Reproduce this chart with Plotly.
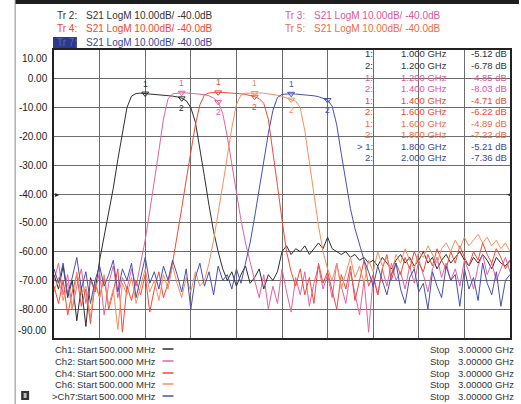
import plotly.graph_objects as go

# ---------------- data ----------------
freq_ghz = [round(0.5 + 0.025 * i, 3) for i in range(101)]  # 500 MHz .. 3 GHz sweep

ch1_db = [-68, -73, -65, -76, -70, -84, -72, -86, -69, -74,
          -63, -55, -46, -38, -28, -19, -10, -6.0, -5.1, -5.0, -5.12, -5.2, -5.3, -5.4, -5.6, -5.8, -6.0,
          -6.3, -6.78, -7.6, -10, -15, -24, -34, -44, -53, -60,
          -66, -70, -67, -72, -68, -65, -71, -69, -66, -73, -68, -70, -67,
          -60, -58, -61, -59, -60, -58, -61, -59, -57, -59, -55, -59, -60, -61, -60, -62, -61, -63, -62, -64, -63,
          -65, -62, -64, -66, -63, -61, -64, -62, -65, -63, -60, -64, -62, -66, -63, -61, -64, -62, -60, -63,
          -65, -62, -64, -61, -63, -66, -62, -64, -65, -63]

ch2_db = [-70, -64, -75, -68, -80, -72, -66, -78, -70, -74, -67, -82, -71, -65, -76, -69, -73, -66, -72,
          -64, -56, -46, -36, -25, -14, -7, -5.2, -4.9, -4.85, -4.9, -5.0, -5.1, -5.3, -5.5, -5.9, -6.7,
          -8.03, -12, -20, -30, -40, -49, -57, -64,
          -70, -76, -68, -80, -72, -78, -66, -74, -81, -69, -75, -67, -79, -71, -65, -73, -68, -76, -64, -72,
          -78, -67, -74, -82, -70, -88, -69, -75, -66, -72, -64, -70, -67, -73, -65, -71, -63, -68, -74, -66,
          -62, -69, -64, -70, -66, -72, -63, -67, -73, -65, -61, -68, -64, -70, -66, -62, -67]

ch4_db = [-72, -78, -70, -82, -74, -68, -79, -73, -85, -71, -76, -69, -80, -74, -66, -88, -72, -77, -70, -75,
          -68, -81, -73, -67, -76, -71,
          -64, -55, -45, -35, -25, -16, -9, -5.6, -4.9, -4.7, -4.71, -4.75, -4.8, -4.9, -5.0, -5.2, -5.4,
          -5.8, -6.22, -6.9, -8.5, -14, -25, -37, -49, -60, -67,
          -72, -66, -75, -69, -78, -64, -71, -67, -74, -80, -68, -73, -65, -77, -70, -63, -72, -68, -75, -66,
          -61, -70, -64, -68, -62, -66, -60, -64, -67, -61, -65, -59, -63, -66, -60, -64, -58, -62, -65, -60,
          -63, -57, -61, -64, -59, -62, -66, -63]

ch6_db = [-74, -69, -77, -71, -80, -67, -75, -72, -83, -70, -76, -68, -79, -73, -87, -71, -75, -69, -78, -72,
          -66, -74, -70, -77, -68, -73, -65, -71, -76, -69, -74, -67, -72, -70,
          -64, -56, -47, -37, -27, -17, -9, -5.6, -5.0, -4.9, -4.89, -4.95, -5.0, -5.2, -5.4, -5.7, -6.1,
          -6.6, -7.22, -7.8, -10, -18, -29, -40, -51, -60, -66,
          -70, -64, -73, -67, -62, -69, -65, -71, -63, -67, -60, -65, -62, -68, -61, -64, -59, -63, -66, -60,
          -62, -58, -61, -64, -59, -57, -60, -56, -59, -55, -58, -56, -54, -57, -55, -58, -56, -59, -57, -60]

ch7_db = [-66, -71, -64, -75, -69, -62, -73, -67, -78, -70, -65, -72, -68, -63, -74, -66, -70, -64, -76, -69,
          -62, -71, -67, -73, -65, -70, -63, -68, -74, -66, -80, -69, -64, -72, -67, -75, -65, -70, -68, -73,
          -66, -71,
          -64, -57, -48, -38, -28, -19, -11, -6.5, -5.4, -5.2, -5.21, -5.3, -5.4, -5.5, -5.7, -5.9, -6.2,
          -6.7, -7.36, -9.5, -16, -26, -36, -45, -52, -58, -63,
          -67, -72, -65, -70, -75, -68, -64, -73, -78, -69, -66, -74, -71, -80, -67, -72, -76, -65, -70, -68,
          -79, -66, -73, -69, -77, -64, -71, -75, -67, -79, -70, -68]

channels = ["Ch1", "Ch2", "Ch4", "Ch6", "Ch7"]
trace_names = ["Tr 2", "Tr 3", "Tr 4", "Tr 5", "Tr 7"]
trace_db = [ch1_db, ch2_db, ch4_db, ch6_db, ch7_db]
colors = ["#2e2e2e", "#e2639f", "#f04a38", "#f4905e", "#4650b4"]
text_colors = ["#333333", "#e0559a", "#f0472e", "#f06a40", "#3a46a0"]

marker_ch = [0, 0, 1, 1, 2, 2, 3, 3, 4, 4]
marker_num = ["1", "2", "1", "2", "1", "2", "1", "2", "1", "2"]
marker_freq_ghz = [1.0, 1.2, 1.2, 1.4, 1.4, 1.6, 1.6, 1.8, 1.8, 2.0]
marker_db = [-5.12, -6.78, -4.85, -8.03, -4.71, -6.22, -4.89, -7.22, -5.21, -7.36]

y_ticks = [0, -10, -20, -30, -40, -50, -60, -70, -80]
x_grid = [0.75, 1.0, 1.25, 1.5, 1.75, 2.0, 2.25, 2.5, 2.75]
start_label = "500.000 MHz"
stop_label = "3.00000 GHz"
scale_label = "S21 LogM 10.00dB/ -40.0dB"

# ---------------- figure ----------------
W, H = 521, 404
L, R, T, B = 54, 512, 50, 338
FONT = "Liberation Sans, Arial, sans-serif"


def PX(x):
    return (x - L) / (R - L)


def PY(y):
    return (B - y) / (B - T)


fig = go.Figure()
for db, col in zip(trace_db, colors):
    fig.add_trace(go.Scatter(x=freq_ghz, y=db, mode="lines",
                             line=dict(color=col, width=1), hoverinfo="skip", showlegend=False))

# marker triangles (data-driven)
for ci in range(5):
    mf = [f for c, f in zip(marker_ch, marker_freq_ghz) if c == ci]
    mv = [v for c, v in zip(marker_ch, marker_db) if c == ci]
    fig.add_trace(go.Scatter(x=mf, y=mv, mode="markers", hoverinfo="skip", showlegend=False,
                             marker=dict(symbol="triangle-down-open", size=6,
                                         color=colors[ci], line=dict(color=colors[ci], width=1))))

ann = []
# marker numbers
for ci, num, f, v in zip(marker_ch, marker_num, marker_freq_ghz, marker_db):
    col = colors[ci]
    if num == "1":
        ann.append(dict(x=f, y=v, xref="x", yref="y", text=num, showarrow=False,
                        yanchor="bottom", yshift=3, font=dict(size=8.5, color=col, family=FONT)))
    else:
        ann.append(dict(x=f, y=v, xref="x", yref="y", text=num, showarrow=False,
                        yanchor="top", yshift=-3, font=dict(size=8.5, color=col, family=FONT)))

# marker table
row_y = [54, 65.5, 77, 88.5, 100, 111.5, 123, 134.5, 146, 157.5]
for k, (ci, num, f, v) in enumerate(zip(marker_ch, marker_num, marker_freq_ghz, marker_db)):
    col = text_colors[ci]
    idtxt = ("> " if (ci == 4 and num == "1") else "") + num + ":"
    for txt, xr in ((idtxt, 376), (f"{f:.3f} GHz", 451), (f"{v:.2f} dB", 511)):
        ann.append(dict(x=PX(xr), y=PY(row_y[k]), xref="paper", yref="paper", text=txt,
                        showarrow=False, xanchor="right", yanchor="middle",
                        font=dict(size=9.5, color=col, family=FONT)))

# y labels at the ends
ann.append(dict(x=PX(49), y=10, xref="paper", yref="y", text="10.00", showarrow=False,
                xanchor="right", yanchor="top", yshift=-1, font=dict(size=10, color="#222", family=FONT)))
ann.append(dict(x=PX(49), y=-90, xref="paper", yref="y", text="-90.00", showarrow=False,
                xanchor="right", yanchor="bottom", yshift=0, font=dict(size=10, color="#222", family=FONT)))
# reference position arrows
ann.append(dict(x=PX(52.5), y=-40, xref="paper", yref="y", text="▸", showarrow=False,
                font=dict(size=8, color="#222", family=FONT)))
ann.append(dict(x=PX(516), y=-40, xref="paper", yref="y", text="◂", showarrow=False,
                font=dict(size=9, color="#333", family=FONT)))

# header
header_pos = [(0, 55, 15), (2, 55, 28), (4, 55, 42), (1, 284, 15), (3, 284, 28)]
for ti, x0, y0 in header_pos:
    col = text_colors[ti]
    name_col = "#5866b8" if ti == 4 else col
    ann.append(dict(x=PX(x0), y=PY(y0), xref="paper", yref="paper", text=trace_names[ti] + ":",
                    showarrow=False, xanchor="left", yanchor="middle",
                    font=dict(size=10, color=name_col, family=FONT)))
    ann.append(dict(x=PX(x0 + 29), y=PY(y0), xref="paper", yref="paper", text=scale_label,
                    showarrow=False, xanchor="left", yanchor="middle",
                    font=dict(size=10, color=col, family=FONT)))

# footer
foot_y = [349, 361, 373, 384, 396]
for k, ch in enumerate(channels):
    lab = (">" if k == 4 else "") + ch + ":"
    fy = PY(foot_y[k])
    for txt, xp, anc in ((lab, 50 if k == 4 else 53, "left"), ("Start", 75, "left"),
                         (start_label, 97, "left"), ("Stop", 430, "left"), (stop_label, 518, "right")):
        ann.append(dict(x=PX(xp), y=fy, xref="paper", yref="paper", text=txt,
                        showarrow=False, xanchor=anc, yanchor="middle",
                        font=dict(size=9.5, color="#333", family=FONT)))

shapes = []
# footer legend line segments
for k in range(5):
    shapes.append(dict(type="line", xref="paper", yref="paper", x0=PX(163), x1=PX(174),
                       y0=PY(foot_y[k]), y1=PY(foot_y[k]), line=dict(color=colors[k], width=1.5)))
# frame bits
shapes.append(dict(type="rect", xref="paper", yref="paper", x0=PX(15), x1=PX(521), y0=PY(0), y1=PY(4),
                   fillcolor="#1e1e1e", line=dict(width=0), layer="above"))
shapes.append(dict(type="line", xref="paper", yref="paper", x0=PX(15), x1=PX(15), y0=PY(0), y1=PY(404),
                   line=dict(color="#8a8a8a", width=1)))
shapes.append(dict(type="rect", xref="paper", yref="paper", x0=PX(53), x1=PX(77), y0=PY(48), y1=PY(37),
                   fillcolor="#2c3a8c", line=dict(width=0), layer="below"))
shapes.append(dict(type="rect", xref="paper", yref="paper", x0=PX(21), x1=PX(29), y0=PY(400), y1=PY(391),
                   fillcolor="#333333", line=dict(width=0)))
shapes.append(dict(type="rect", xref="paper", yref="paper", x0=PX(23.5), x1=PX(26.5), y0=PY(398), y1=PY(393),
                   fillcolor="#bbbbbb", line=dict(width=0)))

fig.update_layout(
    width=W, height=H,
    margin=dict(l=L, r=W - R, t=T, b=H - B),
    paper_bgcolor="white", plot_bgcolor="white",
    font=dict(family=FONT, size=10, color="#222"),
    showlegend=False,
    annotations=ann, shapes=shapes,
    xaxis=dict(range=[0.5, 3.0], tickvals=x_grid, showticklabels=False, ticks="",
               showgrid=True, gridcolor="#6c6c6c", gridwidth=1.3, zeroline=False,
               showline=True, linecolor="#222", linewidth=1.5, mirror=True, fixedrange=True),
    yaxis=dict(range=[-90, 10], tickvals=y_ticks, ticktext=[f"{v:.2f}" for v in y_ticks],
               ticks="", tickfont=dict(size=10, color="#222", family=FONT), ticklabelstandoff=3,
               showgrid=True, gridcolor="#6c6c6c", gridwidth=1.3, zeroline=False,
               showline=True, linecolor="#222", linewidth=1.5, mirror=True, fixedrange=True),
)

fig.write_html("out.html", config={"displayModeBar": False},
               post_script="document.body.style.margin='0';document.body.style.overflow='hidden';")
